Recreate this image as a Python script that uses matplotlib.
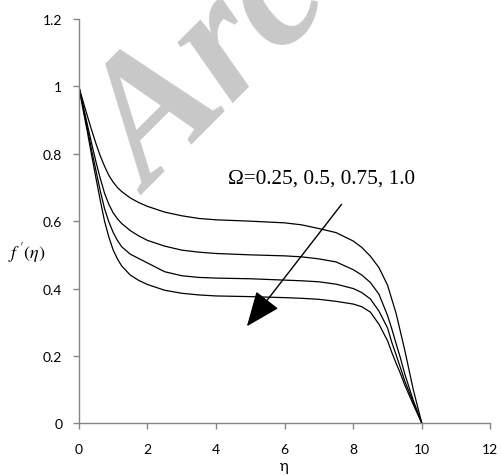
import numpy as np
import matplotlib
matplotlib.use("Agg")
import matplotlib.pyplot as plt

# data
eta = [0, 0.125, 0.25, 0.375, 0.5, 0.625, 0.75, 0.875, 1.0, 1.125, 1.25, 1.5, 1.75, 2.0, 2.5, 3, 3.5, 4,
       5, 6, 6.5, 7, 7.5, 8, 8.25, 8.5, 8.75, 9, 9.125, 9.25, 9.375, 9.5, 9.75, 10]
fp_025 = [1.0, 0.955, 0.912, 0.87, 0.83, 0.794, 0.763, 0.736, 0.716, 0.70, 0.688, 0.669, 0.655, 0.644,
          0.627, 0.616, 0.608, 0.604, 0.600, 0.595, 0.589, 0.578, 0.566, 0.541, 0.522, 0.496, 0.462,
          0.41, 0.368, 0.326, 0.272, 0.218, 0.10, 0.0]
fp_05 = [1.0, 0.943, 0.886, 0.83, 0.776, 0.727, 0.683, 0.65, 0.625, 0.607, 0.593, 0.572, 0.556, 0.543,
         0.526, 0.514, 0.508, 0.504, 0.500, 0.497, 0.494, 0.488, 0.479, 0.456, 0.44, 0.418, 0.383,
         0.32, 0.28, 0.236, 0.194, 0.147, 0.068, 0.0]
fp_075 = [1.0, 0.938, 0.875, 0.81, 0.75, 0.69, 0.637, 0.598, 0.567, 0.543, 0.524, 0.502, 0.489, 0.476,
          0.45, 0.438, 0.433, 0.431, 0.429, 0.425, 0.423, 0.42, 0.413, 0.40, 0.388, 0.369, 0.333,
          0.283, 0.24, 0.203, 0.165, 0.126, 0.062, 0.0]
fp_10 = [1.0, 0.93, 0.865, 0.795, 0.728, 0.662, 0.60, 0.553, 0.515, 0.488, 0.467, 0.44, 0.424, 0.412,
         0.395, 0.386, 0.381, 0.378, 0.376, 0.373, 0.371, 0.368, 0.362, 0.354, 0.346, 0.33, 0.294,
         0.245, 0.21, 0.178, 0.148, 0.114, 0.056, 0.0]
series = [fp_025, fp_05, fp_075, fp_10]

x_ticks = [0, 2, 4, 6, 8, 10, 12]
y_ticks = [0, 0.2, 0.4, 0.6, 0.8, 1.0, 1.2]
y_tick_labels = ['0', '0.2', '0.4', '0.6', '0.8', '1', '1.2']

plt.rcParams['font.family'] = ['Lato', 'DejaVu Sans']
plt.rcParams['mathtext.fontset'] = 'stix'

fig = plt.figure(figsize=(5.02, 4.77), dpi=100)
ax = fig.add_axes([0.157, 0.1105, 0.82, 0.8475])
ax.set_facecolor('none')

# watermark behind the curves
ax.text(150 / 502, 1 - 196 / 477, 'Archive', transform=fig.transFigure, rotation=45,
        rotation_mode='anchor', ha='left', va='baseline', fontsize=128,
        family='Liberation Serif', weight='bold', style='italic', color='#c8c8c8',
        zorder=0, clip_on=False)

for s in series:
    ax.plot(eta, s, color='black', lw=0.9, zorder=2)

ax.set_xlim(0, 12)
ax.set_ylim(0, 1.2)
ax.set_xticks(x_ticks)
ax.set_yticks(y_ticks)
ax.set_yticklabels(y_tick_labels)

grey = '#868686'
for side in ['top', 'right']:
    ax.spines[side].set_visible(False)
for side in ['left', 'bottom']:
    ax.spines[side].set_color(grey)
    ax.spines[side].set_linewidth(1.0)
ax.tick_params(axis='both', direction='out', length=4, width=1.0, color=grey,
               labelsize=10, labelcolor='black')
ax.tick_params(axis='x', pad=10)
ax.tick_params(axis='y', pad=8)

ax.set_xlabel('η', fontsize=11, labelpad=3)
fig.text(8 / 502, 1 - 253 / 477, r"$f^{\,\prime}(\eta)$", fontsize=13, ha='left', va='center')

ax.text(4.36, 0.715, 'Ω=0.25, 0.5, 0.75, 1.0', family='Liberation Serif', fontsize=15.3,
        ha='left', va='baseline')
ax.annotate('', xy=(4.9, 0.288), xytext=(7.66, 0.65),
            arrowprops=dict(arrowstyle='-|>,head_length=1.1,head_width=0.45', color='black',
                            lw=1.0, mutation_scale=20, shrinkA=0, shrinkB=0))

fig.savefig('out.png', dpi=100)
